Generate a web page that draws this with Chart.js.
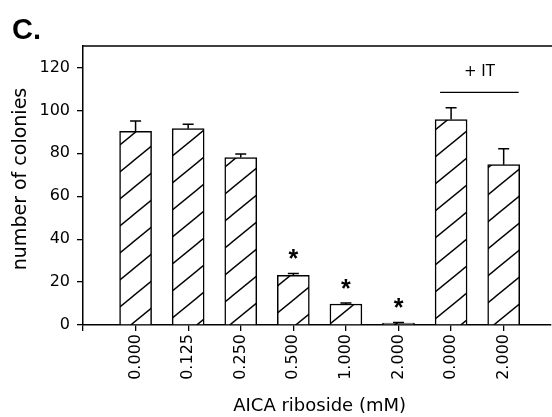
<!DOCTYPE html>
<html><head><meta charset="utf-8">
<script src="https://cdn.jsdelivr.net/npm/chart.js@4"></script>
<style>html,body{margin:0;padding:0;background:#fff;overflow:hidden}#wrap{width:552px;height:417px;position:relative}</style>
</head><body><div id="wrap"><canvas id="c"></canvas></div>
<script>
// ---- data ----
const categories = ['0.000','0.125','0.250','0.500','1.000','2.000','0.000','2.000'];
const colonies   = [90.2, 91.5, 78.0, 23.2, 9.8, 0.9, 95.7, 74.7];
const errorUp    = [4.8, 2.0, 1.7, 0.8, 0.4, 0.3, 5.5, 7.4];
const significant = [false, false, false, true, true, true, false, false];
const yTicks = [0, 20, 40, 60, 80, 100, 120];
const panelLabel = 'C.';
const groupLabel = '+ IT';
const groupMembers = [6, 7];
const xTitle = 'AICA riboside (mM)';
const yTitle = 'number of colonies';

const TICK_FONT = {family: 'DejaVu Sans', size: 16};

function hatchPattern(ctx) {
  const w = 33, h = 27;
  const t = document.createElement('canvas'); t.width = w; t.height = h;
  const g = t.getContext('2d');
  g.fillStyle = '#fff'; g.fillRect(0, 0, w, h);
  g.strokeStyle = '#000'; g.lineWidth = 1.4;
  for (let k = -1; k <= 1; k++) {
    g.beginPath(); g.moveTo(-w, 2*h + k*h); g.lineTo(2*w, -h + k*h); g.stroke();
  }
  return ctx.createPattern(t, 'repeat');
}

const ctx = document.getElementById('c').getContext('2d');

const decorations = {
  id: 'decorations',
  afterDatasetsDraw(chart) {
    const c = chart.ctx, xs = chart.scales.x, ys = chart.scales.y;
    c.save();
    c.strokeStyle = '#000'; c.lineWidth = 1.5;
    colonies.forEach((v, i) => {
      const x = xs.getPixelForValue(i + 1);
      const yb = ys.getPixelForValue(v), yt = ys.getPixelForValue(v + errorUp[i]);
      c.beginPath(); c.moveTo(x, yb); c.lineTo(x, yt);
      c.moveTo(x - 5.5, yt); c.lineTo(x + 5.5, yt); c.stroke();
      if (significant[i]) {
        c.fillStyle = '#000';
        c.font = 'bold 25px "Liberation Sans"';
        c.textAlign = 'center'; c.textBaseline = 'alphabetic';
        c.fillText('*', x, yt - 20 + 14);
      }
    });
    // group bar "+ IT"
    const x1 = xs.getPixelForValue(groupMembers[0] + 1) - 11;
    const x2 = xs.getPixelForValue(groupMembers[1] + 1) + 15;
    const yl = ys.getPixelForValue(108.4);
    c.lineWidth = 1.3;
    c.beginPath(); c.moveTo(x1, yl); c.lineTo(x2, yl); c.stroke();
    c.fillStyle = '#000';
    c.font = '15px "DejaVu Sans"';
    c.textAlign = 'center'; c.textBaseline = 'middle';
    c.fillText(groupLabel, (x1 + x2) / 2, ys.getPixelForValue(118));
    c.restore();
  },
  afterDraw(chart) {
    const c = chart.ctx, a = chart.chartArea, xs = chart.scales.x;
    c.save();
    c.strokeStyle = '#000'; c.lineWidth = 1.5;
    c.beginPath(); c.moveTo(a.left, a.top); c.lineTo(chart.width, a.top); c.stroke();
    c.fillStyle = '#000';
    c.font = 'bold 29px "Liberation Sans"';
    c.textAlign = 'left'; c.textBaseline = 'alphabetic';
    c.fillText(panelLabel, 12, 39);
    c.font = '18px "DejaVu Sans"';
    c.textAlign = 'center'; c.textBaseline = 'middle';
    c.fillText(xTitle, xs.getPixelForValue(4.5), 406);
    c.font = '19px "DejaVu Sans"';
    c.translate(21, 179); c.rotate(-Math.PI / 2);
    c.fillText(yTitle, 0, 0);
    c.restore();
  }
};

new Chart(ctx, {
  type: 'bar',
  data: {
    datasets: [{
      data: colonies.map((v, i) => ({x: i + 1, y: v})),
      backgroundColor: hatchPattern(ctx),
      borderColor: '#000',
      borderWidth: 1.5,
      barThickness: 32
    }]
  },
  options: {
    responsive: true,
    maintainAspectRatio: false,
    animation: false,
    devicePixelRatio: 1,
    layout: {padding: {top: 46, right: 1, left: 0, bottom: 0}},
    plugins: {legend: {display: false}, tooltip: {enabled: false}, title: {display: false}},
    scales: {
      x: {
        type: 'linear', min: 0, max: 8.9, offset: false,
        ticks: {
          stepSize: 1, includeBounds: false, autoSkip: false,
          maxRotation: 90, minRotation: 90, padding: 3,
          color: '#000', font: TICK_FONT,
          callback: v => categories[v - 1] ?? ''
        },
        grid: {offset: false, drawOnChartArea: false, drawTicks: true, tickLength: 6, color: '#000', lineWidth: 1.3},
        border: {color: '#000', width: 1.5},
        afterFit: s => { s.height = 92; }
      },
      y: {
        min: 0, max: 130,
        afterBuildTicks: s => { s.ticks = yTicks.map(v => ({value: v})); },
        ticks: {color: '#000', font: TICK_FONT, padding: 7},
        grid: {drawOnChartArea: false, drawTicks: true, tickLength: 6, color: '#000', lineWidth: 1.3},
        border: {color: '#000', width: 1.5},
        afterFit: s => { s.width = 83; }
      }
    }
  },
  plugins: [decorations]
});
</script>
</body></html>
